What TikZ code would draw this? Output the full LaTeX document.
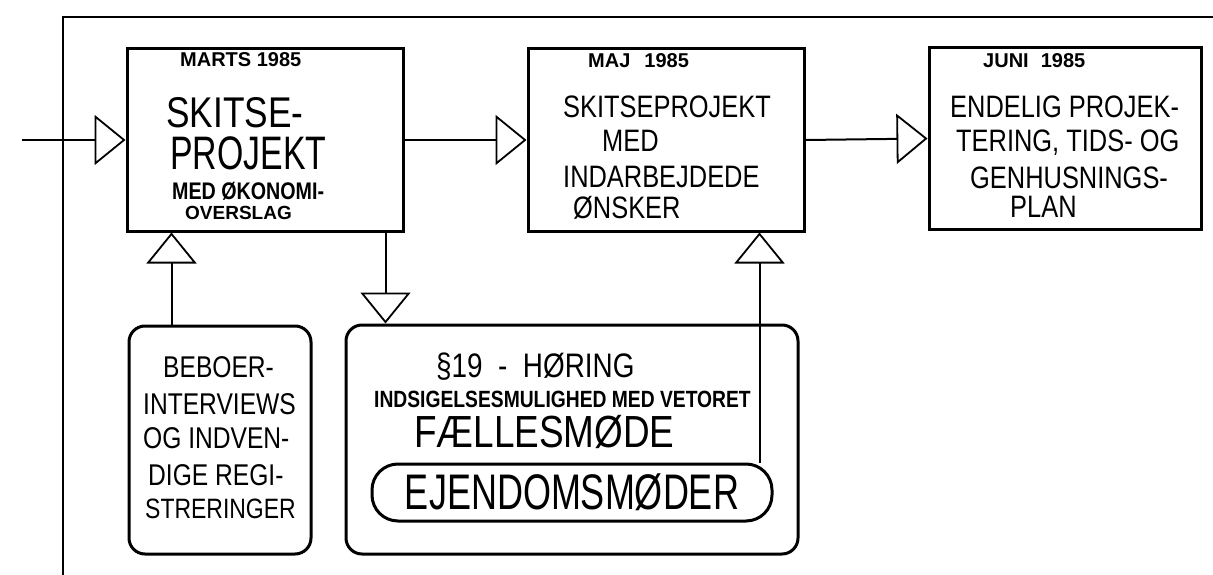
\documentclass[tikz,border=0pt]{standalone}
\usepackage{fontspec}
\setmainfont{Liberation Sans}
\newfontfamily\hand[FakeStretch=0.82]{Liberation Sans}
\newfontfamily\handn[FakeStretch=0.72]{Liberation Sans}
\newcommand\fsz[1]{\fontsize{#1}{#1}\selectfont}
\usetikzlibrary{arrows.meta}
\begin{document}
\begin{tikzpicture}[x=1pt,y=-1pt,
  box/.style={draw, line width=3pt, inner sep=0pt},
  rbox/.style={box, rounded corners=16pt},
  conn/.style={line width=2pt, -{Triangle[open, length=31pt, width=50pt, line width=1.8pt]}},
  frame/.style={line width=2pt},
  txt/.style={inner sep=0pt, anchor=base west},
]
\useasboundingbox (0,0) rectangle (1213,575);
% frame
\draw[frame] (63,575) -- (63,17) -- (1213,17);
% boxes
\node[box, minimum width=276pt, minimum height=182pt] (b1) at (265,140) {};
\node[box, minimum width=276pt, minimum height=182pt] (b2) at (666,140) {};
\node[box, minimum width=272pt, minimum height=181pt] (b3) at (1065,138.5) {};
\node[rbox, minimum width=182pt, minimum height=228pt] (beb) at (220,440) {};
\node[rbox, minimum width=452pt, minimum height=229pt] (hor) at (572,439.5) {};
\node[box, rounded corners=26pt, minimum width=400pt, minimum height=57pt, font=\handn\fsz{50}] (ej) at (572,492.5) {EJENDOMSMØDER};
% connectors
\coordinate (in) at (22,140);
\draw[conn] (in) -- (b1.west);
\draw[conn] (b1.east) -- (b2.west);
\draw[conn] (b2.east) -- (b3.west);
\draw[conn] ([xshift=44pt]beb.north west) -- ([xshift=44pt]beb.north west |- b1.south);
\draw[conn] ([xshift=-19pt]b1.south east) -- ([xshift=-19pt]b1.south east |- hor.north);
\draw[conn] ([xshift=-14pt]ej.north east) -- ([xshift=-14pt]ej.north east |- b2.south);
% box 1 text
\node[txt, font=\bfseries\fsz{20}] (d1) at (180,67) {MARTS 1985};
\node[txt, font=\hand\fsz{43}] (t1a) at (166,128) {SKITSE-};
\node[txt, font=\handn\fsz{47}] (t1b) at (170,170) {PROJEKT};
\node[txt, font=\hand\bfseries\fsz{24}] (t1c) at (172,199) {MED ØKONOMI-};
\node[txt, font=\bfseries\fsz{19}] (t1d) at (185,219) {OVERSLAG};
% box 2 text
\node[txt, font=\bfseries\fsz{20}] (d2) at (588,68) {MAJ\hspace{14pt}1985};
\node[txt, font=\hand\fsz{31}] (t2a) at (563,118) {SKITSEPROJEKT};
\node[txt, font=\hand\fsz{31}] (t2b) at (602,152) {MED};
\node[txt, font=\hand\fsz{31}] (t2c) at (563,187) {INDARBEJDEDE};
\node[txt, font=\hand\fsz{31}] (t2d) at (573,218) {ØNSKER};
% box 3 text
\node[txt, font=\bfseries\fsz{20}] (d3) at (983,68) {JUNI\hspace{12pt}1985};
\node[txt, font=\hand\fsz{31}] (t3a) at (950,118) {ENDELIG PROJEK-};
\node[txt, font=\hand\fsz{31}] (t3b) at (956,152) {TERING, TIDS- OG};
\node[txt, font=\hand\fsz{31}] (t3c) at (970,188) {GENHUSNINGS-};
\node[txt, font=\hand\fsz{31}] (t3d) at (1010,217) {PLAN};
% beboer text
\node[txt, font=\hand\fsz{30}] (t4a) at (163,377) {BEBOER-};
\node[txt, font=\hand\fsz{30}] (t4b) at (143,414) {INTERVIEWS};
\node[txt, font=\hand\fsz{30}] (t4c) at (143,448) {OG INDVEN-};
\node[txt, font=\hand\fsz{30}] (t4d) at (148,485) {DIGE REGI-};
\node[txt, font=\hand\fsz{28}] (t4e) at (145,518) {STRERINGER};
% horing text
\node[txt, font=\hand\fsz{34}] (t5a) at (436,377) {§19~~-~~HØRING};
\node[txt, font=\hand\bfseries\fsz{23.5}] (t5b) at (374,407) {INDSIGELSESMULIGHED MED VETORET};
\node[txt, font=\hand\fsz{45}] (t5c) at (414,447) {FÆLLESMØDE};
\end{tikzpicture}
\end{document}
